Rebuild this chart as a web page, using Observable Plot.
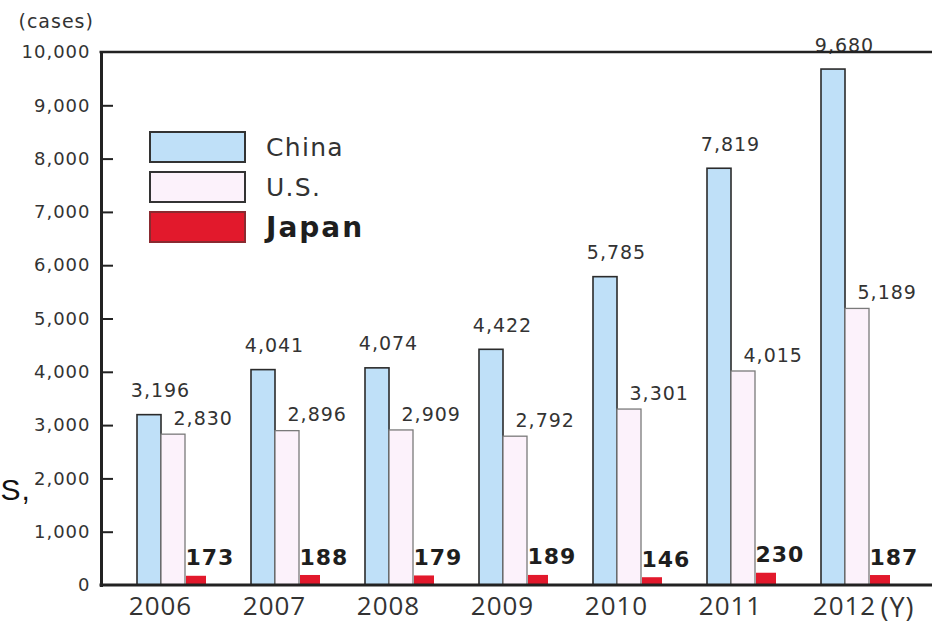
<!DOCTYPE html>
<html>
<head>
<meta charset="utf-8">
<script src="https://cdn.jsdelivr.net/npm/d3@7"></script>
<script src="https://cdn.jsdelivr.net/npm/@observablehq/plot@0.6"></script>
<style>
  html, body { margin: 0; padding: 0; background: #fff; }
  #wrap { position: relative; width: 932px; height: 629px; overflow: hidden; }
  #wrap svg { overflow: visible; }
  svg text { letter-spacing: 1px; }
  [aria-label="japan-values"], [aria-label="japan-values"] text { letter-spacing: 2px; }
  [aria-label="year-unit"], [aria-label="year-unit"] text { letter-spacing: 5px; }
  #legend { position: absolute; left: 149px; top: 130px; font-family: "DejaVu Sans", sans-serif; color: #333; }
  .item { display: flex; align-items: center; height: 34px; margin-bottom: 6px; }
  .sw { width: 97px; height: 32px; box-sizing: border-box; border: 2px solid #333; margin-right: 20px; }
  .lab { font-size: 25px; letter-spacing: 1.3px; }
</style>
</head>
<body>
<div id="wrap"></div>
<script>
const years = ["2006", "2007", "2008", "2009", "2010", "2011", "2012"];
const countries = ["China", "U.S.", "Japan"];
const chinaCases = [3196, 4041, 4074, 4422, 5785, 7819, 9680];
const usCases = [2830, 2896, 2909, 2792, 3301, 4015, 5189];
const japanCases = [173, 188, 179, 189, 146, 230, 187];
const yTicks = [0, 1000, 2000, 3000, 4000, 5000, 6000, 7000, 8000, 9000, 10000];
const colors = ["#bfe0f8", "#fcf2fb", "#e2192c"];

const series = [chinaCases, usCases, japanCases];
const rows = years.flatMap((year, i) =>
  countries.map((country, j) => ({year, country, value: series[j][i]}))
);
const byCountry = c => rows.filter(d => d.country === c);
const fmt = d3.format(",");
const yMin = yTicks[0], yMax = yTicks[yTicks.length - 1];
const lastYear = years[years.length - 1];
const W = 932, ML = 101;

const chart = Plot.plot({
  width: W,
  height: 629,
  marginLeft: ML,
  marginRight: 0,
  marginTop: 52,
  marginBottom: 44,
  style: {fontFamily: "DejaVu Sans, sans-serif", color: "#333", background: "transparent"},
  fx: {domain: years, range: [ML, 899], padding: 0},
  x: {domain: countries, paddingInner: 0, paddingOuter: 0.78, align: 0.846, axis: null},
  y: {domain: [yMin, yMax]},
  marks: [
    Plot.barY(byCountry("China"), {fx: "year", x: "country", y: "value", fill: colors[0], stroke: "#2b2b2b", strokeWidth: 1.6}),
    Plot.barY(byCountry("U.S."), {fx: "year", x: "country", y: "value", fill: colors[1], stroke: "#7a7a7a", strokeWidth: 1.3}),
    Plot.barY(byCountry("Japan"), {fx: "year", x: "country", y: "value", fill: colors[2], insetLeft: 1, insetRight: 3}),
    Plot.text(byCountry("China"), {fx: "year", x: "country", y: "value", text: d => fmt(d.value), dx: 11, dy: -24, lineAnchor: "middle", fontSize: 19, fill: "#333"}),
    Plot.text(byCountry("U.S."), {fx: "year", x: "country", y: "value", text: d => fmt(d.value), textAnchor: "start", dx: 0, dy: -16, lineAnchor: "middle", fontSize: 19, fill: "#333"}),
    Plot.text(byCountry("Japan"), {fx: "year", x: "country", y: "value", text: d => fmt(d.value), textAnchor: "start", dx: -12, dy: -18, lineAnchor: "middle", fontSize: 22, fontWeight: "bold", fill: "#1e1e1e", ariaLabel: "japan-values"}),
    Plot.axisY({ticks: yTicks, tickFormat: fmt, tickSize: 0, tickPadding: 11, fontSize: 18, fill: "#333", label: null}),
    Plot.axisY({ticks: yTicks.slice(1, -1), tickSize: -12, strokeWidth: 2, stroke: "#222", fill: "none", label: null}),
    Plot.axisFx({anchor: "bottom", tickSize: 0, tickPadding: 11, fontSize: 26, fontFamily: "Open Sans, sans-serif", fill: "#333", dx: 2, label: null}),
    Plot.text(["(Y)"], {fx: () => lastYear, frameAnchor: "bottom-right", textAnchor: "start", dx: -19, dy: 23, lineAnchor: "middle", fontSize: 27, fontFamily: "Open Sans, sans-serif", fill: "#333", ariaLabel: "year-unit"}),
    Plot.text(["(cases)"], {facet: "super", frameAnchor: "top-left", textAnchor: "start", dx: -83, dy: -31, lineAnchor: "middle", fontSize: 19, fill: "#333"}),
    Plot.text(["S,"], {facet: "super", frameAnchor: "bottom-left", textAnchor: "start", dx: -101, dy: -95, lineAnchor: "middle", fontSize: 30, fontFamily: "Liberation Sans, sans-serif", fill: "#111"}),
    Plot.frame({anchor: "left", facet: "super", stroke: "#222", strokeWidth: 3})
  ]
});

// baseline and top line of the frame, placed with the chart's own y scale, running to the right edge
const ys = chart.scale("y");
[[yMin, 3], [yMax, 2.5]].forEach(([v, sw]) => {
  const yy = ys.apply(v);
  d3.select(chart).append("line")
    .attr("x1", ML - 1.5).attr("x2", W)
    .attr("y1", yy).attr("y2", yy)
    .attr("stroke", "#222").attr("stroke-width", sw);
});

const wrap = document.getElementById("wrap");
wrap.appendChild(chart);

const legend = document.createElement("div");
legend.id = "legend";
countries.forEach((c, i) => {
  const item = document.createElement("div");
  item.className = "item";
  const sw = document.createElement("div");
  sw.className = "sw";
  sw.style.background = colors[i];
  if (i === 2) sw.style.borderColor = "#8a2a30";
  const lab = document.createElement("span");
  lab.className = "lab";
  lab.textContent = c;
  if (i === 2) { lab.style.fontWeight = "bold"; lab.style.color = "#1e1e1e"; lab.style.fontSize = "28px"; lab.style.letterSpacing = "2px"; }
  item.appendChild(sw);
  item.appendChild(lab);
  legend.appendChild(item);
});
wrap.appendChild(legend);
</script>
</body>
</html>
